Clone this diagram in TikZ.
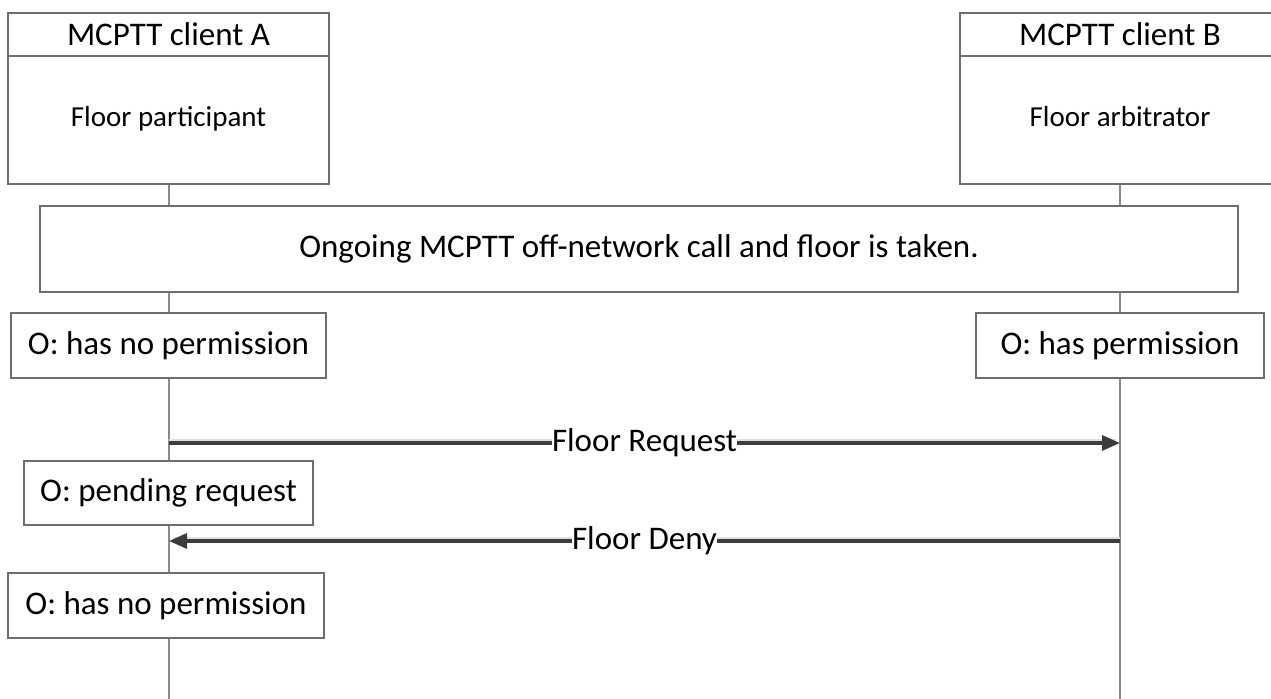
\documentclass[tikz,border=0pt]{standalone}
\usepackage{fontspec}
\setmainfont{Carlito}
\usetikzlibrary{arrows.meta}
\definecolor{boxline}{HTML}{6E6E6E}
\definecolor{lifeline}{HTML}{8A8A8A}
\definecolor{arrowc}{HTML}{3C3C3C}
\definecolor{shadowc}{HTML}{E0E0E0}
\begin{document}
\begin{tikzpicture}[x=1bp,y=-1bp,
  box/.style={draw=boxline,line width=1.2bp,fill=white,rectangle,inner sep=0pt,
    font=\fontsize{33bp}{40bp}\selectfont},
  smalltext/.style={font=\fontsize{29bp}{35bp}\selectfont,text height=20bp,text depth=6bp},
  life/.style={draw=lifeline,line width=1.2bp},
  msg/.style={draw=arrowc,line width=3.2bp,-{Triangle[length=18bp,width=15bp]}},
  shadowline/.style={draw=shadowc,line width=2bp},
  lbl/.style={fill=white,inner sep=0pt,font=\fontsize{33bp}{40bp}\selectfont}]
\useasboundingbox (0,0) rectangle (1271,699);
\begin{scope}
\clip (0,0) rectangle (1271,699);
% lifelines
\coordinate (endA) at (169,699);
\coordinate (endB) at (1120,699);
\coordinate (topA) at (169,184);
\coordinate (topB) at (1120,184);
\draw[life] (topA) -- (endA);
\draw[life] (topB) -- (endB);
% participant boxes
\node[box,minimum width=321bp,minimum height=43bp] (headA) at (168.5,34.5) {MCPTT client A};
\node[box,minimum width=321bp,minimum height=128bp,smalltext] (bodyA) at (168.5,120) {Floor participant};
\node[box,minimum width=320bp,minimum height=43bp] (headB) at (1120,34.5) {MCPTT client B};
\node[box,minimum width=320bp,minimum height=128bp,smalltext] (bodyB) at (1120,120) {Floor arbitrator};
% ongoing call
\node[box,minimum width=1198bp,minimum height=86bp] (ongoing) at (639,249) {Ongoing MCPTT off-network call and floor is taken.};
% states
\node[box,minimum width=315bp,minimum height=65bp] (stA1) at (168.5,345.5) {O: has no permission};
\node[box,minimum width=288bp,minimum height=65bp] (stB1) at (1120,345.5) {O: has permission};
\node[box,minimum width=289bp,minimum height=64bp] (stA2) at (168.5,493) {O: pending request};
\node[box,minimum width=316bp,minimum height=65bp] (stA3) at (166,605.5) {O: has no permission};
% messages
\coordinate (reqA) at (169,443);
\coordinate (reqB) at (1120,443);
\coordinate (denA) at (169,541);
\coordinate (denB) at (1120,541);
\draw[shadowline] ([yshift=2.8bp]reqA) -- ([yshift=2.8bp,xshift=-4bp]reqB);
\draw[shadowline] ([yshift=2.8bp,xshift=4bp]denA) -- ([yshift=2.8bp]denB);
\draw[msg] (reqA) -- (reqB) node[lbl,midway] (reqL) {Floor Request};
\draw[msg] (denB) -- (denA) node[lbl,midway] (denL) {Floor Deny};
\end{scope}
\end{tikzpicture}
\end{document}
